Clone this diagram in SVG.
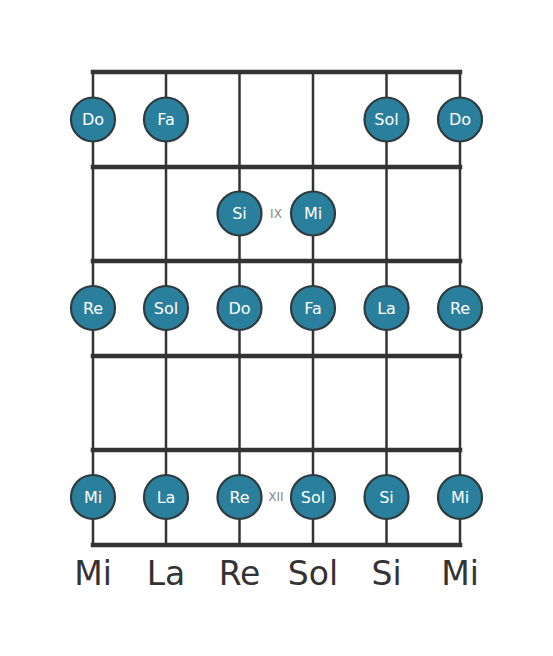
<svg xmlns="http://www.w3.org/2000/svg" width="553" height="656" viewBox="0 0 553 656">
<style>
.fret{stroke:#333;stroke-width:4.5;stroke-linecap:square}
.str{stroke:#333;stroke-width:2.5}
.dot{fill:#2a809c;stroke:#2e3a3d;stroke-width:2.2}
.lbl{fill:#fff;font-family:"DejaVu Sans",sans-serif;font-size:16px;text-anchor:middle;dominant-baseline:central}
.pos{fill:#888;font-family:"DejaVu Sans",sans-serif;font-size:12px;text-anchor:middle;dominant-baseline:central}
.tun{fill:#333;font-family:"DejaVu Sans",sans-serif;font-size:33px;text-anchor:middle}
</style>
<rect width="553" height="656" fill="#fff"/>
<g id="connectors">
<line class="str" x1="93" y1="72" x2="93" y2="545"/>
<line class="str" x1="166" y1="72" x2="166" y2="545"/>
<line class="str" x1="239.5" y1="72" x2="239.5" y2="545"/>
<line class="str" x1="313" y1="72" x2="313" y2="545"/>
<line class="str" x1="386.5" y1="72" x2="386.5" y2="545"/>
<line class="str" x1="460" y1="72" x2="460" y2="545"/>
<line class="fret" x1="93" y1="72" x2="460" y2="72"/>
<line class="fret" x1="93" y1="167" x2="460" y2="167"/>
<line class="fret" x1="93" y1="261" x2="460" y2="261"/>
<line class="fret" x1="93" y1="356" x2="460" y2="356"/>
<line class="fret" x1="93" y1="450" x2="460" y2="450"/>
<line class="fret" x1="93" y1="545" x2="460" y2="545"/>
</g>
<g id="n1"><circle class="dot" cx="93" cy="119.5" r="22"/><text class="lbl" x="93" y="119.5">Do</text></g>
<g id="n2"><circle class="dot" cx="166" cy="119.5" r="22"/><text class="lbl" x="166" y="119.5">Fa</text></g>
<g id="n3"><circle class="dot" cx="386.5" cy="119.5" r="22"/><text class="lbl" x="386.5" y="119.5">Sol</text></g>
<g id="n4"><circle class="dot" cx="460" cy="119.5" r="22"/><text class="lbl" x="460" y="119.5">Do</text></g>
<g id="n5"><circle class="dot" cx="239.5" cy="213.5" r="22"/><text class="lbl" x="239.5" y="213.5">Si</text></g>
<g id="n6"><circle class="dot" cx="313" cy="213.5" r="22"/><text class="lbl" x="313" y="213.5">Mi</text></g>
<g id="n7"><circle class="dot" cx="93" cy="308" r="22"/><text class="lbl" x="93" y="308">Re</text></g>
<g id="n8"><circle class="dot" cx="166" cy="308" r="22"/><text class="lbl" x="166" y="308">Sol</text></g>
<g id="n9"><circle class="dot" cx="239.5" cy="308" r="22"/><text class="lbl" x="239.5" y="308">Do</text></g>
<g id="n10"><circle class="dot" cx="313" cy="308" r="22"/><text class="lbl" x="313" y="308">Fa</text></g>
<g id="n11"><circle class="dot" cx="386.5" cy="308" r="22"/><text class="lbl" x="386.5" y="308">La</text></g>
<g id="n12"><circle class="dot" cx="460" cy="308" r="22"/><text class="lbl" x="460" y="308">Re</text></g>
<g id="n13"><circle class="dot" cx="93" cy="497" r="22"/><text class="lbl" x="93" y="497">Mi</text></g>
<g id="n14"><circle class="dot" cx="166" cy="497" r="22"/><text class="lbl" x="166" y="497">La</text></g>
<g id="n15"><circle class="dot" cx="239.5" cy="497" r="22"/><text class="lbl" x="239.5" y="497">Re</text></g>
<g id="n16"><circle class="dot" cx="313" cy="497" r="22"/><text class="lbl" x="313" y="497">Sol</text></g>
<g id="n17"><circle class="dot" cx="386.5" cy="497" r="22"/><text class="lbl" x="386.5" y="497">Si</text></g>
<g id="n18"><circle class="dot" cx="460" cy="497" r="22"/><text class="lbl" x="460" y="497">Mi</text></g>
<g id="positions">
<text class="pos" x="276" y="214">IX</text>
<text class="pos" x="276" y="497">XII</text>
</g>
<g id="tuning">
<text class="tun" x="93" y="585">Mi</text>
<text class="tun" x="166" y="585">La</text>
<text class="tun" x="239.5" y="585">Re</text>
<text class="tun" x="313" y="585">Sol</text>
<text class="tun" x="386.5" y="585">Si</text>
<text class="tun" x="460" y="585">Mi</text>
</g>
</svg>
